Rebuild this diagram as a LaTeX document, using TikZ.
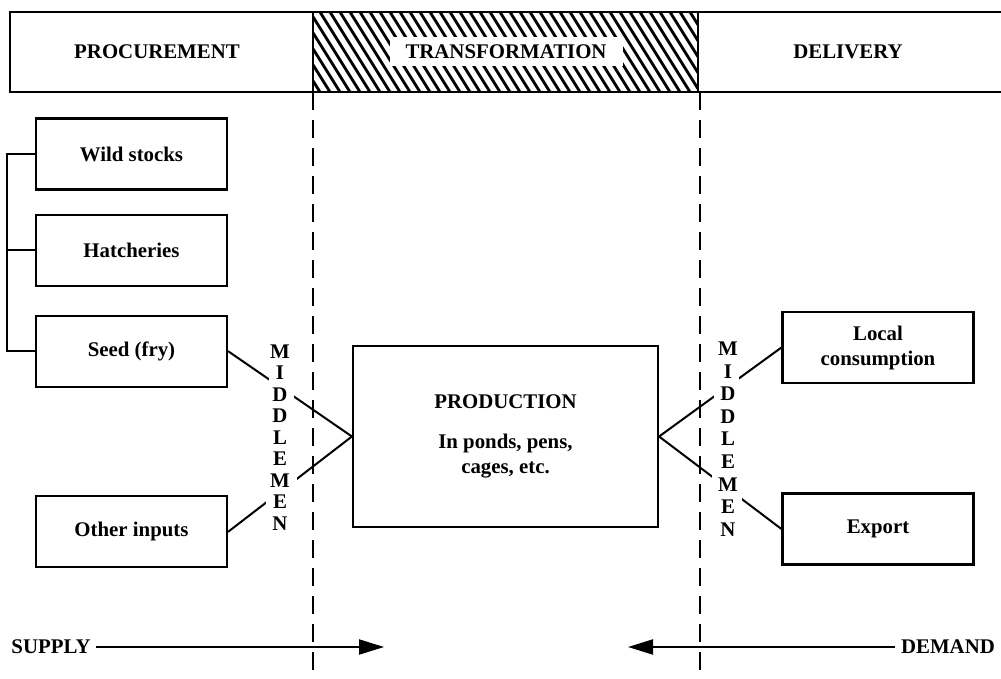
\documentclass[tikz,border=0pt]{standalone}
\usepackage{fontspec}
\setmainfont{Liberation Serif}
\usetikzlibrary{arrows.meta,positioning}

\tikzset{
	stagebox/.style={draw,line width=1.3pt,minimum width=114.6pt,minimum height=42.6pt,align=center,
		font=\bfseries\fontsize{12.5}{15}\selectfont},
	heading/.style={font=\bfseries\fontsize{12.5}{15}\selectfont},
	letter/.style={fill=white,inner xsep=4pt,inner ysep=1.5pt,text height=8.5pt,text depth=2pt,
		font=\bfseries\fontsize{12.5}{15}\selectfont},
	hatchline/.style={line width=1.7pt},
	divider/.style={line width=1.2pt,dash pattern=on 10.8pt off 6pt},
	link/.style={line width=1.2pt},
	flow/.style={line width=1.2pt,-{Triangle[length=15pt,width=9pt]}}
}

\begin{document}
\begin{tikzpicture}[x=0.6pt,y=-0.6pt]
	\useasboundingbox (0,0) rectangle (1001,679);

	% header band
	\draw[line width=1.4pt] (10,12) rectangle (1010,92);
	\begin{scope}
		\clip (313,12) rectangle (698,92);
		\foreach \h in {260,270,...,700}
			\draw[hatchline] (\h,12) -- ++(50,80);
		\fill[white] (390,37) rectangle (623,66);
	\end{scope}
	\draw[line width=1.4pt] (313,12) rectangle (698,92);

	\node[heading] (procure) at (157,52) {PROCUREMENT};
	\node[heading] (transform) at (506,52) {TRANSFORMATION};
	\node[heading] (deliver) at (848,52) {DELIVERY};

	% dividers
	\coordinate (cutL) at (313,92);
	\coordinate (cutR) at (700,92);
	\draw[divider] (cutL) -- (313,679);
	\draw[divider] (cutR) -- (700,679);

	% supply side
	\node[stagebox] (wild) at (131.5,154) {Wild stocks};
	\node[stagebox,below=14pt of wild] (hatch) {Hatcheries};
	\node[stagebox,below=16.5pt of hatch] (seed) {Seed (fry)};
	\node[stagebox,below=64.5pt of seed] (other) {Other inputs};

	\draw[link] (wild.west) -- ++(-28,0) |- (seed.west);
	\draw[link] (hatch.west) -- ++(-28,0);

	% production
	\node[stagebox,minimum width=183pt,minimum height=108.6pt] (prod) at (505.5,436.5)
		{PRODUCTION\\[9pt] In ponds, pens,\\ cages, etc.};

	% demand side
	\node[stagebox] (local) at (878,347.5) {Local\\ consumption};
	\node[stagebox,below=65pt of local] (export) {Export};

	\draw[link] (seed.east) -- (prod.west);
	\draw[link] (other.east) -- (prod.west);
	\draw[link] (prod.east) -- (local.west);
	\draw[link] (prod.east) -- (export.west);

	% middlemen
	\foreach \ch [count=\k] in {M,I,D,D,L,E,M,E,N}{
		\node[letter] (lm\k) at (280,{353+21.5*(\k-1)}) {\ch};
		\node[letter] (rm\k) at (728,{350+22.6*(\k-1)}) {\ch};
	}

	% supply / demand
	\node[heading] (supply) at (51,647) {SUPPLY};
	\coordinate (supplytip) at (384,647);
	\draw[flow] (supply) -- (supplytip);

	\node[heading] (demand) at (948,647) {DEMAND};
	\coordinate (demandtip) at (628,647);
	\draw[flow] (demand) -- (demandtip);
\end{tikzpicture}
\end{document}
